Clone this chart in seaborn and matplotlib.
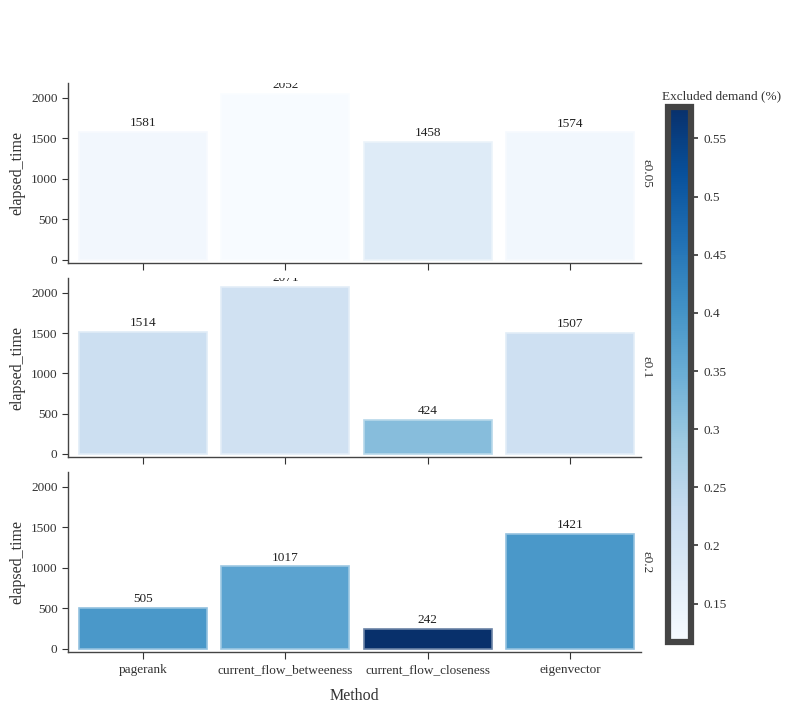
import numpy as np
import pandas as pd
import seaborn as sns
import matplotlib
matplotlib.use('Agg')
import matplotlib.pyplot as plt
import matplotlib.colors as mcolors
from matplotlib.ticker import FuncFormatter

# data
methods = ['pagerank', 'current_flow_betweeness', 'current_flow_closeness', 'eigenvector']
epsilons = ['ε0.05', 'ε0.1', 'ε0.2']
elapsed_005 = [1581, 2052, 1458, 1574]
elapsed_01 = [1514, 2071, 424, 1507]
elapsed_02 = [505, 1017, 242, 1421]
excluded_005 = [0.130, 0.118, 0.175, 0.132]
excluded_01 = [0.218, 0.210, 0.315, 0.214]
excluded_02 = [0.393, 0.370, 0.577, 0.393]
cbar_ticks = [0.15, 0.2, 0.25, 0.3, 0.35, 0.4, 0.45, 0.5, 0.55]

rows = []
for eps, times, excl in zip(epsilons,
                            [elapsed_005, elapsed_01, elapsed_02],
                            [excluded_005, excluded_01, excluded_02]):
    for m, t, e in zip(methods, times, excl):
        rows.append({'epsilon': eps, 'Method': m, 'elapsed_time': t, 'excluded': e})
df = pd.DataFrame(rows)

sns.set_style('ticks')
plt.rcParams['font.family'] = ['Liberation Serif', 'DejaVu Serif']

cmap = plt.get_cmap('Blues')
norm = mcolors.Normalize(vmin=0.117, vmax=0.577)

W, H = 794, 706
fig = plt.figure(figsize=(W / 100, H / 100), dpi=100)

row_px = [(83, 263), (278, 457), (472, 652)]
left, right = 68, 641
axes = []
for i, eps in enumerate(epsilons):
    top, bot = row_px[i]
    ax = fig.add_axes([left / W, 1 - bot / H, (right - left) / W, (bot - top) / H])
    sub = df[df['epsilon'] == eps]
    pal = [cmap(norm(v)) for v in sub['excluded']]
    sns.barplot(data=sub, x='Method', y='elapsed_time', hue='Method', palette=pal,
                legend=False, width=0.9, ax=ax, saturation=1, linewidth=1.2)
    for p, c in zip(ax.patches, pal):
        edge = np.array(mcolors.to_rgb(c)) * 0.6 + 0.4
        p.set_edgecolor(edge)
    for cont in ax.containers:
        texts = ax.bar_label(cont, fmt='%d', padding=2, fontsize=9.5, color='#222222')
        for t in texts:
            t.set_clip_on(True)
            t.set_clip_box(ax.bbox)
    ax.set_ylim(-40, 2185)
    ax.set_xlim(-0.527, 3.5)
    ax.set_yticks([0, 500, 1000, 1500, 2000])
    ax.set_ylabel('elapsed_time', fontsize=11.5, color='#333333')
    ax.tick_params(axis='both', labelsize=9.5, colors='#333333', length=4, width=0.8)
    ax.tick_params(axis='x', length=5)
    for s in ['left', 'bottom']:
        ax.spines[s].set_color('#444444')
        ax.spines[s].set_linewidth(1.0)
    sns.despine(ax=ax)
    fig.text(641 / W, 1 - (top + bot) / 2 / H, eps, rotation=-90,
             va='center', ha='left', fontsize=9.5, color='#333333')
    if i < 2:
        ax.set_xticklabels([])
        ax.set_xlabel('')
    else:
        ax.set_xlabel('Method', fontsize=11.5, color='#333333', labelpad=9)
    axes.append(ax)

# colorbar
cax = fig.add_axes([668 / W, 1 - 642 / H, 23 / W, (642 - 107) / H])
sm = matplotlib.cm.ScalarMappable(norm=norm, cmap=cmap)
cbar = fig.colorbar(sm, cax=cax, ticks=cbar_ticks)
cbar.outline.set_edgecolor('#444444')
cbar.outline.set_linewidth(4.5)
cbar.ax.yaxis.set_major_formatter(FuncFormatter(lambda v, _: f'{v:g}'))
cbar.ax.tick_params(labelsize=9.5, colors='#333333', length=5, width=1.2, pad=4)
fig.text(722 / W, 1 - 96 / H, 'Excluded demand (%)', ha='center', va='center',
         fontsize=9.5, color='#333333')

fig.savefig('out.png', dpi=100)
